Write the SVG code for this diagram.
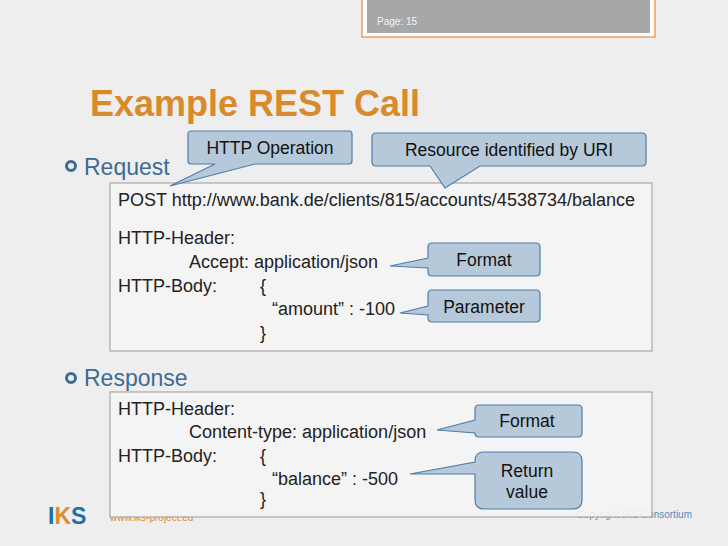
<svg xmlns="http://www.w3.org/2000/svg" width="728" height="546" viewBox="0 0 728 546">
<style>
text{font-family:"Liberation Sans",Arial,sans-serif}
.code{font-size:18px;fill:#222}
.box{fill:#f4f4f4;stroke:#a8a8a8;stroke-width:1.2}
.call{fill:#b5c9da;stroke:#4f7fa8;stroke-width:1.2}
.ct{font-size:17.5px;fill:#111;text-anchor:middle}
.bul{font-size:23px;fill:#3d6a96}
</style>
<rect width="728" height="546" fill="#eeeeee"/>
<g id="pagebox">
<rect x="362" y="-2" width="293" height="39" fill="#fff" stroke="#f0a060" stroke-width="1.5"/>
<rect x="367" y="-2" width="283" height="35" fill="#a6a7a9"/>
<text x="377" y="25" font-size="10" fill="#f4f4f4">Page:  15</text>
</g>
<text x="90" y="116" font-size="36" font-weight="bold" fill="#d98a2c">Example REST Call</text>
<g id="footer">
<text x="48" y="524" font-size="23" font-weight="bold" fill="#1e6fa5">I<tspan fill="#e08a30">K</tspan>S</text>
<text x="110" y="521" font-size="10" fill="#e08a30">www.iks-project.eu</text>
<text x="692" y="518" font-size="10" fill="#5a8ab8" text-anchor="end">Copyright IKS Consortium</text>
</g>
<g id="request">
<circle cx="71" cy="166" r="4.5" fill="none" stroke="#3d6a96" stroke-width="3"/>
<text x="84" y="175" class="bul">Request</text>
<rect x="110" y="183" width="542" height="168" class="box"/>
<text class="code" x="118" y="206">POST http://www.bank.de/clients/815/accounts/4538734/balance</text>
<text class="code" x="118" y="244">HTTP-Header:</text>
<text class="code" x="189" y="268">Accept: application/json</text>
<text class="code" x="118" y="292">HTTP-Body:</text>
<text class="code" x="260" y="292">{</text>
<text class="code" x="272" y="315">“amount” : -100</text>
<text class="code" x="260" y="339">}</text>
</g>
<g id="response">
<circle cx="71" cy="378" r="4.5" fill="none" stroke="#3d6a96" stroke-width="3"/>
<text x="84" y="386" class="bul">Response</text>
<rect x="110" y="392" width="542" height="125" class="box" fill-opacity="0.92"/>
<text class="code" x="118" y="415">HTTP-Header:</text>
<text class="code" x="189" y="438">Content-type: application/json</text>
<text class="code" x="118" y="462">HTTP-Body:</text>
<text class="code" x="260" y="462">{</text>
<text class="code" x="272" y="485">“balance” : -500</text>
<text class="code" x="260" y="505">}</text>
</g>
<g id="callouts">
<g id="c-op"><path class="call" d="M192,131 H349 Q352,131 352,134 V161 Q352,164 349,164 H255 L170,186 L215,164 H191 Q188,164 188,161 V134 Q188,131 192,131 Z"/><text class="ct" x="270" y="154">HTTP Operation</text></g>
<g id="c-uri"><path class="call" d="M376,133 H642 Q646,133 646,137 V162 Q646,166 642,166 H480 L445,188 L430,166 H376 Q372,166 372,162 V137 Q372,133 376,133 Z"/><text class="ct" x="509" y="156">Resource identified by URI</text></g>
<g id="c-fmt1"><path class="call" d="M432,243 H536 Q540,243 540,247 V272 Q540,276 536,276 H432 Q428,276 428,272 V268 L390,266 L428,258 V247 Q428,243 432,243 Z"/><text class="ct" x="484" y="266">Format</text></g>
<g id="c-par"><path class="call" d="M432,290 H536 Q540,290 540,294 V318 Q540,322 536,322 H432 Q428,322 428,318 V315 L400,313 L428,306 V294 Q428,290 432,290 Z"/><text class="ct" x="484" y="313">Parameter</text></g>
<g id="c-fmt2"><path class="call" d="M479,405 H578 Q582,405 582,409 V433 Q582,437 578,437 H479 Q475,437 475,433 L437,430 L475,420 V409 Q475,405 479,405 Z"/><text class="ct" x="527" y="427">Format</text></g>
<g id="c-ret"><path class="call" d="M484,452 H573 Q582,452 582,461 V500 Q582,509 573,509 H484 Q475,509 475,500 V474 L410,474 L475,462 V461 Q475,452 484,452 Z"/><text class="ct" x="527" y="477">Return</text><text class="ct" x="527" y="498">value</text></g>
</g>
</svg>
